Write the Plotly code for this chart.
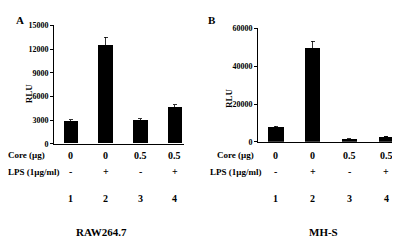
import plotly.graph_objects as go

# ---- data ----
lanes = [1, 2, 3, 4]
lane_labels = ["1", "2", "3", "4"]
core_labels = ["0", "0", "0.5", "0.5"]
lps_labels = ["-", "+", "-", "+"]

raw_values = [2800, 12450, 2920, 4600]
raw_err = [250, 1050, 230, 350]
mhs_values = [7600, 49500, 1500, 2600]
mhs_err = [600, 3600, 150, 300]

raw_ticks = [0, 3000, 6000, 9000, 12000, 15000]
mhs_ticks = [0, 20000, 40000, 60000]

# page body has an 8px margin; figure is offset accordingly
OFF = 8
W, H = 400 - OFF, 244 - OFF
def px(x):
    return (x - OFF) / W
def py(y):
    return 1 - (y - OFF) / H

FONT = "Liberation Serif"

fig = go.Figure()
fig.add_trace(go.Bar(x=lanes, y=raw_values, width=0.43, marker_color="black",
                     marker_line_width=0,
                     error_y=dict(type="data", array=raw_err, arrayminus=[0]*4,
                                  symmetric=False, color="black", thickness=0.8, width=2),
                     xaxis="x", yaxis="y", showlegend=False))
fig.add_trace(go.Bar(x=lanes, y=mhs_values, width=0.41, marker_color="black",
                     marker_line_width=0,
                     error_y=dict(type="data", array=mhs_err, arrayminus=[0]*4,
                                  symmetric=False, color="black", thickness=0.8, width=2),
                     xaxis="x2", yaxis="y2", showlegend=False))

axfont = dict(family=FONT, size=8, color="black", weight="bold")
common_x = dict(showgrid=False, zeroline=False, showline=True, linecolor="black",
                linewidth=1, ticks="", showticklabels=False)
common_y = dict(showgrid=False, zeroline=False, showline=True, linecolor="black",
                linewidth=1, ticks="outside", ticklen=3, tickcolor="black",
                tickfont=axfont, tickformat="d")

fig.update_layout(
    width=W, height=H, margin=dict(l=0, r=0, t=0, b=0),
    paper_bgcolor="white", plot_bgcolor="white", bargap=0,
    xaxis=dict(domain=[px(54), px(184)], range=[0.51, 4.26], anchor="y", **common_x),
    yaxis=dict(domain=[py(145), py(22)], range=[0, 15000], anchor="x",
               tickvals=raw_ticks, **common_y),
    xaxis2=dict(domain=[px(258), px(396)], range=[0.51, 4.27], anchor="y2", **common_x),
    yaxis2=dict(domain=[py(143), py(25)], range=[0, 60000], anchor="x2",
                tickvals=mhs_ticks, **common_y),
)

ann = []
def txt(x, y, s, size=9, xref="paper", xanchor="center", yanchor="middle"):
    ann.append(dict(x=x, y=y, xref=xref, yref="paper", text=s, showarrow=False,
                    xanchor=xanchor, yanchor=yanchor,
                    font=dict(family=FONT, size=size, color="black", weight="bold")))

# panel letters
txt(px(20), 1.0, "A", size=11, yanchor="top")
txt(px(212), py(16), "B", size=11)
# RLU labels (rotated)
for x, y in [(22, 80), (229, 85)]:
    ann.append(dict(x=px(x), y=py(y), xref="paper", yref="paper", text="RLU",
                    showarrow=False, textangle=-90,
                    font=dict(family=FONT, size=9, color="black", weight="bold")))

# row labels
txt(px(6), py(157), "Core (µg)", size=9, xanchor="left")
txt(px(6), py(174), "LPS (1µg/ml)", size=9, xanchor="left")
txt(px(215), py(157), "Core (µg)", size=9, xanchor="left")
txt(px(208), py(174), "LPS (1µg/ml)", size=9, xanchor="left")

for xr in ["x", "x2"]:
    for i in range(4):
        txt(lanes[i], py(157), core_labels[i], size=10, xref=xr)
        txt(lanes[i], py(174), lps_labels[i], size=10, xref=xr)
        txt(lanes[i], py(202), lane_labels[i], size=10, xref=xr)

txt(px(101), py(237), "RAW264.7", size=11)
txt(px(323), py(237), "MH-S", size=11)

fig.update_layout(annotations=ann)
fig.write_html("out.html")
